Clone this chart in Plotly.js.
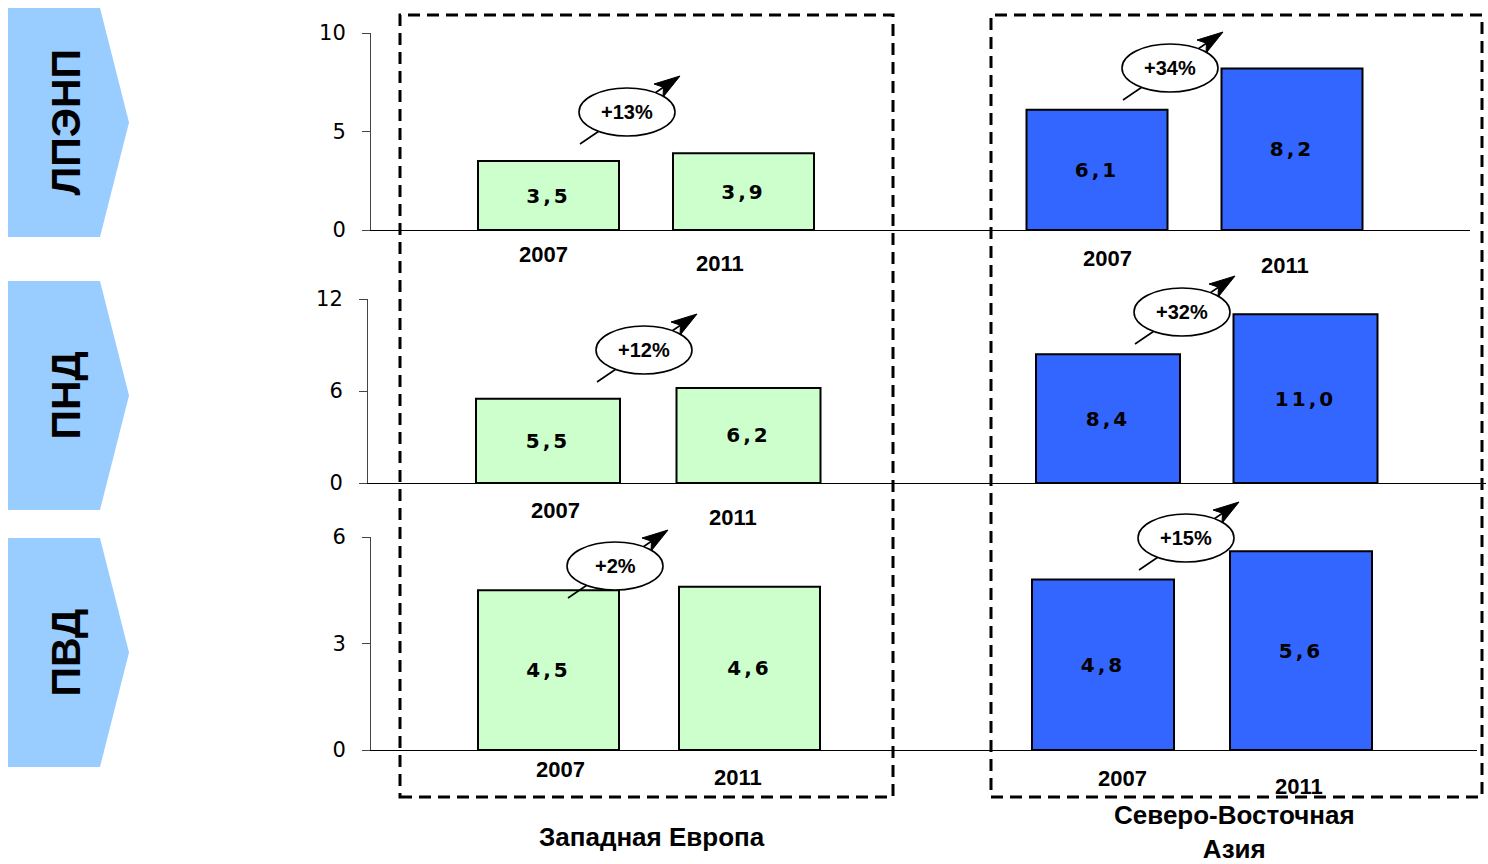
<!DOCTYPE html>
<html><head><meta charset="utf-8">
<script src="https://cdn.plot.ly/plotly-3.0.1.min.js"></script>
<style>
html,body{margin:0;padding:0;background:#fff;}
#chart{width:1488px;height:864px;}
.bartext{letter-spacing:3px;}
</style></head><body><div id="chart"></div>
<script>
// ---------- DATA ----------
const products = ['ЛПЭНП', 'ПНД', 'ПВД'];
const regionWE = 'Западная Европа';
const regionNEA = 'Северо-Восточная<br>Азия';
const years = ['2007', '2011'];
const lldpeWE = [3.5, 3.9];
const lldpeNEA = [6.1, 8.2];
const hdpeWE = [5.5, 6.2];
const hdpeNEA = [8.4, 11.0];
const ldpeWE = [4.5, 4.6];
const ldpeNEA = [4.8, 5.6];
const growthLabels = ['+13%', '+34%', '+12%', '+32%', '+2%', '+15%'];
const yTicksLLDPE = [0, 5, 10];
const yTicksHDPE = [0, 6, 12];
const yTicksLDPE = [0, 3, 6];

// ---------- LAYOUT GEOMETRY (pixels) ----------
const W = 1488, H = 864;
const px = x => x / W;
const py = y => 1 - y / H;

const rows = [
  {we: lldpeWE, nea: lldpeNEA, ticks: yTicksLLDPE, yTop: 33, yBot: 230, L: 371, split: 920, R: 1470,
   weG: {c0: 548.5, s: 195, w: 141}, neaG: {c0: 1097, s: 195, w: 141}, chev: [8, 237]},
  {we: hdpeWE, nea: hdpeNEA, ticks: yTicksHDPE, yTop: 299, yBot: 483, L: 368, split: 920, R: 1486,
   weG: {c0: 548, s: 200.5, w: 144}, neaG: {c0: 1108, s: 197.5, w: 144}, chev: [281, 510]},
  {we: ldpeWE, nea: ldpeNEA, ticks: yTicksLDPE, yTop: 537, yBot: 750, L: 371, split: 920, R: 1477,
   weG: {c0: 548.5, s: 201, w: 141}, neaG: {c0: 1103, s: 198, w: 142}, chev: [538, 767]}
];
const calloutCenters = [[627, 112], [1170, 68], [644, 350], [1182, 312], [615, 566], [1186, 538]];
const yearLabelPos = [
  [[543, 255], [720, 263], [1107, 258], [1285, 265]],
  [[555, 510], [733, 517], null, null],
  [[560, 769], [738, 777], [1122, 778], [1299, 786]]
];

const GREEN = '#CCFFCC', BLUE = '#3366FF';
const traces = [];
const layout = {
  width: W, height: H, margin: {l: 0, r: 0, t: 0, b: 0},
  paper_bgcolor: '#fff', plot_bgcolor: 'rgba(0,0,0,0)',
  showlegend: false, separators: ', ',
  font: {family: 'Liberation Sans, Arial, sans-serif', color: '#000'},
  shapes: [], annotations: []
};
const axName = (p, n) => p + (n === 1 ? '' : n);

rows.forEach((row, r) => {
  const yN = r + 1, xWE = 2 * r + 1, xNEA = 2 * r + 2;
  const mkX = (g, L, R) => ({
    type: 'category', categoryorder: 'array', categoryarray: years,
    domain: [px(L), px(R)], range: [(L - g.c0) / g.s, (R - g.c0) / g.s],
    showline: true, linecolor: '#000', linewidth: 1, ticks: '', showticklabels: false,
    showgrid: false, zeroline: false, fixedrange: true, anchor: axName('y', yN)
  });
  layout[axName('xaxis', xWE)] = mkX(row.weG, row.L, row.split);
  layout[axName('xaxis', xNEA)] = mkX(row.neaG, row.split, row.R);
  layout[axName('yaxis', yN)] = {
    domain: [py(row.yBot), py(row.yTop)], range: [0, row.ticks[row.ticks.length - 1]],
    tickmode: 'array', tickvals: row.ticks, showline: true, linecolor: '#444', linewidth: 1,
    ticks: 'outside', ticklen: 8, tickcolor: '#444', ticklabelstandoff: 12,
    tickfont: {family: 'DejaVu Sans', size: 21, color: '#000'},
    showgrid: false, zeroline: false, fixedrange: true, anchor: axName('x', xWE)
  };
  const mkBar = (vals, g, xn, color) => ({
    type: 'bar', x: years, y: vals, xaxis: axName('x', xn), yaxis: axName('y', yN),
    width: g.w / g.s, marker: {color: color, line: {color: '#000', width: 2}},
    texttemplate: '%{y:.1f}', textposition: 'inside', insidetextanchor: 'middle', textangle: 0,
    textfont: {family: 'DejaVu Sans', size: 20, color: '#000', weight: 'bold'},
    hoverinfo: 'skip', cliponaxis: false
  });
  traces.push(mkBar(row.we, row.weG, xWE, GREEN));
  traces.push(mkBar(row.nea, row.neaG, xNEA, BLUE));

  // chevron
  const [t, b] = row.chev, mid = (t + b) / 2;
  layout.shapes.push({
    type: 'path', xref: 'paper', yref: 'paper', layer: 'below',
    path: `M${px(8)},${py(t)} L${px(100)},${py(t)} L${px(129)},${py(mid)} L${px(100)},${py(b)} L${px(8)},${py(b)} Z`,
    fillcolor: '#99CCFF', line: {width: 0}
  });
  layout.annotations.push({
    xref: 'paper', yref: 'paper', x: px(65), y: py(mid), text: '<b>' + products[r] + '</b>',
    textangle: -90, showarrow: false, xanchor: 'center', yanchor: 'middle',
    font: {family: 'Liberation Sans', size: 41, color: '#000'}
  });

  // year labels
  yearLabelPos[r].forEach((p, i) => {
    if (!p) return;
    layout.annotations.push({
      xref: 'paper', yref: 'paper', x: px(p[0]), y: py(p[1]), text: '<b>' + years[i % 2] + '</b>',
      showarrow: false, xanchor: 'center', yanchor: 'middle',
      font: {family: 'Liberation Sans', size: 22, color: '#000'}
    });
  });
});

// dashed region boxes
[[400, 893], [991, 1482]].forEach(([a, b]) => {
  layout.shapes.push({
    type: 'rect', xref: 'paper', yref: 'paper', layer: 'above',
    x0: px(a), x1: px(b), y0: py(797), y1: py(15),
    line: {color: '#000', width: 3, dash: '12px,7px'}, fillcolor: 'rgba(0,0,0,0)'
  });
});

// growth callouts: arrow lines, heads, then ellipses on top
const lines = [], heads = [], ells = [];
calloutCenters.forEach(([cx, cy], i) => {
  const S = [cx - 47, cy + 32], T = [cx + 53, cy - 36];
  const dx = T[0] - S[0], dy = T[1] - S[1], len = Math.hypot(dx, dy);
  const ux = dx / len, uy = dy / len, nx = -uy, ny = ux;
  const hl = 26, hw = 8;
  const B = [T[0] - hl * ux, T[1] - hl * uy];
  const N = [T[0] - (hl - 6) * ux, T[1] - (hl - 6) * uy];
  lines.push({type: 'line', xref: 'paper', yref: 'paper', layer: 'above',
    x0: px(S[0]), y0: py(S[1]), x1: px(N[0]), y1: py(N[1]), line: {color: '#000', width: 1.6}});
  heads.push({type: 'path', xref: 'paper', yref: 'paper', layer: 'above',
    path: `M${px(T[0])},${py(T[1])} L${px(B[0] + hw * nx)},${py(B[1] + hw * ny)} L${px(N[0])},${py(N[1])} L${px(B[0] - hw * nx)},${py(B[1] - hw * ny)} Z`,
    fillcolor: '#000', line: {color: '#000', width: 1}});
  ells.push({type: 'circle', xref: 'paper', yref: 'paper', layer: 'above',
    x0: px(cx - 48), x1: px(cx + 48), y0: py(cy + 24), y1: py(cy - 24),
    fillcolor: '#fff', line: {color: '#000', width: 1.6}});
  layout.annotations.push({
    xref: 'paper', yref: 'paper', x: px(cx), y: py(cy), text: '<b>' + growthLabels[i] + '</b>',
    showarrow: false, xanchor: 'center', yanchor: 'middle',
    font: {family: 'Liberation Sans', size: 20, color: '#000'}
  });
});
layout.shapes.push(...lines, ...heads, ...ells);

// region labels
layout.annotations.push({
  xref: 'paper', yref: 'paper', x: px(652), y: py(837), text: '<b>' + regionWE + '</b>',
  showarrow: false, xanchor: 'center', yanchor: 'middle',
  font: {family: 'Liberation Sans', size: 26, color: '#000'}
});
layout.annotations.push({
  xref: 'paper', yref: 'paper', x: px(1234), y: py(832), text: '<b>' + regionNEA + '</b>',
  showarrow: false, xanchor: 'center', yanchor: 'middle',
  font: {family: 'Liberation Sans', size: 26, color: '#000'}
});

Plotly.newPlot('chart', traces, layout, {displayModeBar: false, staticPlot: true});
</script></body></html>
